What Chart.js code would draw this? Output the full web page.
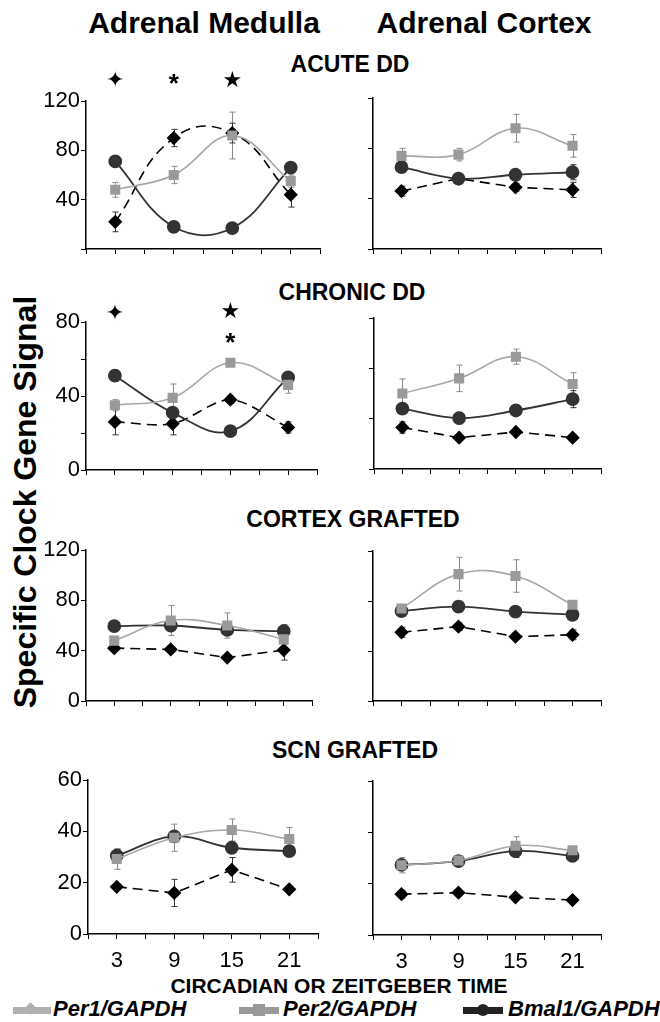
<!DOCTYPE html>
<html>
<head>
<meta charset="utf-8">
<script src="https://cdn.jsdelivr.net/npm/chart.js@4.4.1/dist/chart.umd.min.js"></script>
<style>
    body { margin: 0; background: #fff; }
    #page { position: relative; width: 660px; height: 1022px; overflow: hidden;
            font-family: "Liberation Sans", Arial, sans-serif; color: #000; }
    .txt { position: absolute; white-space: nowrap; font-weight: bold; transform: translate(-50%, -50%); }
    canvas { position: absolute; }
    .sw { position: absolute; height: 7px; }
    .mk { position: absolute; }
    .leg { position: absolute; font-weight: bold; font-style: italic; font-size: 22px; white-space: nowrap; }
</style>
</head>
<body>
<div id="page">
    <div class="txt" style="left:204px; top:23px; font-size:30px;">Adrenal Medulla</div>
    <div class="txt" style="left:484px; top:23px; font-size:30px;">Adrenal Cortex</div>

    <div class="txt" style="left:350px; top:64px; font-size:23px;">ACUTE DD</div>
    <div class="txt" style="left:352px; top:292px; font-size:23px;">CHRONIC DD</div>
    <div class="txt" style="left:353px; top:519px; font-size:23px;">CORTEX GRAFTED</div>
    <div class="txt" style="left:355px; top:750px; font-size:23px;">SCN GRAFTED</div>

    <div class="txt" style="left:25px; top:502px; font-size:32px; transform: translate(-50%, -50%) rotate(-90deg);">Specific Clock Gene Signal</div>
    <div class="txt" style="left:339px; top:986px; font-size:21px;">CIRCADIAN OR ZEITGEBER TIME</div>

    <!-- legend -->
    <div class="sw" style="left:13px; top:1007px; width:38px; background:#b0b0b0;"></div>
    <div class="mk" style="left:26px; top:1004px; width:9px; height:9px; background:#b0b0b0; transform:rotate(45deg);"></div>
    <div class="leg" style="left:53px; top:996px;">Per1/GAPDH</div>

    <div class="sw" style="left:239px; top:1007px; width:40px; background:#999;"></div>
    <div class="mk" style="left:253px; top:1004px; width:12px; height:12px; background:#999;"></div>
    <div class="leg" style="left:283px; top:996px;">Per2/GAPDH</div>

    <div class="sw" style="left:463px; top:1007px; width:40px; background:#222;"></div>
    <div class="mk" style="left:477px; top:1004px; width:12px; height:12px; border-radius:50%; background:#222;"></div>
    <div class="leg" style="left:508px; top:996px;">Bmal1/GAPDH</div>
</div>

<script>
// -----------------------------
// DATA
// -----------------------------
const hours = [3, 9, 15, 21];
const xTickLabels = [3, 9, 15, 21];

// ACUTE DD - medulla
const acuteMedPer1 = [22, 90, 94, 44];
const acuteMedPer1Err = [8, 7, 8, 10];
const acuteMedPer2 = [48, 60, 92, 55];
const acuteMedPer2Err = [6, 7, 19, 5];
const acuteMedBmal1 = [71, 18, 17, 66];
const acuteMedBmal1Err = [0, 0, 0, 0];
// ACUTE DD - cortex
const acuteCtxPer1 = [46, 56, 49, 47];
const acuteCtxPer1Err = [4, 2, 3, 6];
const acuteCtxPer2 = [74, 75, 96, 82];
const acuteCtxPer2Err = [6, 5, 11, 9];
const acuteCtxBmal1 = [65, 56, 59, 61];
const acuteCtxBmal1Err = [4, 3, 3, 6];

// CHRONIC DD - medulla
const chronMedPer1 = [26, 25, 38, 23];
const chronMedPer1Err = [7, 6, 2, 3];
const chronMedPer2 = [35, 39, 58, 46];
const chronMedPer2Err = [3, 7.5, 1.5, 4.5];
const chronMedBmal1 = [51, 31, 21, 50];
const chronMedBmal1Err = [3, 0, 0, 2];
// CHRONIC DD - cortex
const chronCtxPer1 = [22, 16.6, 19.6, 16.6];
const chronCtxPer1Err = [3, 0, 0, 0];
const chronCtxPer2 = [40, 48, 59.5, 45];
const chronCtxPer2Err = [7.7, 7, 4, 6];
const chronCtxBmal1 = [32, 27, 31, 37];
const chronCtxBmal1Err = [0, 3, 0, 4.5];

// CORTEX GRAFTED - medulla
const ctxgMedPer1 = [42, 41, 34.5, 40.5];
const ctxgMedPer1Err = [2, 0, 0, 8];
const ctxgMedPer2 = [48, 64, 60, 49];
const ctxgMedPer2Err = [0, 12, 10, 4];
const ctxgMedBmal1 = [59.5, 60, 56.5, 55.5];
const ctxgMedBmal1Err = [0, 0, 4, 5];
// CORTEX GRAFTED - cortex
const ctxgCtxPer1 = [55, 59.5, 51.5, 53];
const ctxgCtxPer1Err = [4, 3, 0, 4];
const ctxgCtxPer2 = [74, 101.5, 100, 77];
const ctxgCtxPer2Err = [0, 13.5, 13, 0];
const ctxgCtxBmal1 = [72, 75.5, 71.5, 69];
const ctxgCtxBmal1Err = [4, 0, 0, 3];

// SCN GRAFTED - medulla
const scnMedPer1 = [18.4, 16, 25, 17.4];
const scnMedPer1Err = [1, 5.3, 4.8, 0];
const scnMedPer2 = [29.2, 37.5, 40.5, 37];
const scnMedPer2Err = [4, 5.3, 4.3, 4.5];
const scnMedBmal1 = [30.5, 38, 33.6, 32.3];
const scnMedBmal1Err = [2.5, 0, 0, 0];
// SCN GRAFTED - cortex
const scnCtxPer1 = [15.9, 16.5, 14.7, 13.6];
const scnCtxPer1Err = [1.5, 0, 0, 0];
const scnCtxPer2 = [27.2, 29, 34.8, 33];
const scnCtxPer2Err = [3, 2, 3.5, 0];
const scnCtxBmal1 = [27.3, 28.8, 32.7, 30.8];
const scnCtxBmal1Err = [0, 0, 2.5, 0];

// significance symbols (x in hours, y in axis units)
const acuteMedSig = [
    { x: 3, y: 136, s: "\u2726" },
    { x: 9, y: 133, s: "*" },
    { x: 15, y: 136, s: "\u2605" }
];
const chronMedSig = [
    { x: 3, y: 84, s: "\u2726" },
    { x: 15, y: 85, s: "\u2605" },
    { x: 15, y: 68, s: "*" }
];

// -----------------------------
// PANELS (plot rectangle in page pixels)
// -----------------------------
const panels = [
    { box: [86, 101, 320, 249], max: 120, step: 40, labels: [40, 80, 120], per1: acuteMedPer1, per1Err: acuteMedPer1Err, per2: acuteMedPer2, per2Err: acuteMedPer2Err, bmal: acuteMedBmal1, bmalErr: acuteMedBmal1Err, sig: acuteMedSig, dashTension: 0.45 },
    { box: [373, 98, 601, 249], max: 120, step: 40, labels: null, per1: acuteCtxPer1, per1Err: acuteCtxPer1Err, per2: acuteCtxPer2, per2Err: acuteCtxPer2Err, bmal: acuteCtxBmal1, bmalErr: acuteCtxBmal1Err, dashTension: 0 },
    { box: [86, 322, 317, 470], max: 80, step: 20, labels: [0, 40, 80], per1: chronMedPer1, per1Err: chronMedPer1Err, per2: chronMedPer2, per2Err: chronMedPer2Err, bmal: chronMedBmal1, bmalErr: chronMedBmal1Err, sig: chronMedSig, dashTension: 0.3 },
    { box: [374, 318, 601, 469], max: 80, step: 80 / 3, labels: null, per1: chronCtxPer1, per1Err: chronCtxPer1Err, per2: chronCtxPer2, per2Err: chronCtxPer2Err, bmal: chronCtxBmal1, bmalErr: chronCtxBmal1Err, dashTension: 0 },
    { box: [86, 550, 312, 701], max: 120, step: 40, labels: [0, 40, 80, 120], per1: ctxgMedPer1, per1Err: ctxgMedPer1Err, per2: ctxgMedPer2, per2Err: ctxgMedPer2Err, bmal: ctxgMedBmal1, bmalErr: ctxgMedBmal1Err, dashTension: 0 },
    { box: [373, 551, 601, 701], max: 120, step: 40, labels: null, per1: ctxgCtxPer1, per1Err: ctxgCtxPer1Err, per2: ctxgCtxPer2, per2Err: ctxgCtxPer2Err, bmal: ctxgCtxBmal1, bmalErr: ctxgCtxBmal1Err, dashTension: 0 },
    { box: [88, 780, 318, 934], max: 60, step: 20, labels: [0, 20, 40, 60], per1: scnMedPer1, per1Err: scnMedPer1Err, per2: scnMedPer2, per2Err: scnMedPer2Err, bmal: scnMedBmal1, bmalErr: scnMedBmal1Err, dashTension: 0, xLabels: true },
    { box: [373, 781, 601, 935], max: 60, step: 20, labels: null, per1: scnCtxPer1, per1Err: scnCtxPer1Err, per2: scnCtxPer2, per2Err: scnCtxPer2Err, bmal: scnCtxBmal1, bmalErr: scnCtxBmal1Err, dashTension: 0, xLabels: true }
];

const PAD_L = 62, PAD_T = 42, PAD_R = 10, PAD_B = 44;

// -----------------------------
// PLUGINS
// -----------------------------
const errorBars = {
    id: "errorBars",
    beforeDatasetsDraw(chart) {
        const { ctx, scales: { x, y } } = chart;
        chart.data.datasets.forEach((ds) => {
            if (!ds.err) return;
            ctx.save();
            ctx.strokeStyle = ds.errColor;
            ctx.lineWidth = 1;
            ds.data.forEach((p, i) => {
                const e = ds.err[i];
                if (!e) return;
                const px = Math.round(x.getPixelForValue(p.x)) + 0.5;
                const top = y.getPixelForValue(p.y + e);
                const bot = y.getPixelForValue(p.y - e);
                ctx.beginPath();
                ctx.moveTo(px, top); ctx.lineTo(px, bot);
                ctx.moveTo(px - 3, top); ctx.lineTo(px + 3, top);
                ctx.moveTo(px - 3, bot); ctx.lineTo(px + 3, bot);
                ctx.stroke();
            });
            ctx.restore();
        });
    }
};

function sigPlugin(marks) {
    return {
        id: "sigMarks",
        afterDraw(chart) {
            if (!marks) return;
            const { ctx, scales: { x, y } } = chart;
            ctx.save();
            ctx.fillStyle = "#000";
            ctx.textAlign = "center";
            ctx.textBaseline = "middle";
            marks.forEach((m) => {
                ctx.font = m.s === "*" ? "bold 26px 'Liberation Sans'" : "22px 'DejaVu Sans'";
                ctx.fillText(m.s, x.getPixelForValue(m.x), y.getPixelForValue(m.y));
            });
            ctx.restore();
        }
    };
}

// -----------------------------
// BUILD CHARTS
// -----------------------------
const page = document.getElementById("page");

function pts(vals) {
    return hours.map((h, i) => ({ x: h, y: vals[i] }));
}

panels.forEach((p) => {
    const [l, t, r, b] = p.box;
    const canvas = document.createElement("canvas");
    const w = r - l + PAD_L + PAD_R;
    const h = b - t + PAD_T + PAD_B;
    canvas.width = w;
    canvas.height = h;
    canvas.style.left = (l - PAD_L) + "px";
    canvas.style.top = (t - PAD_T) + "px";
    canvas.style.width = w + "px";
    canvas.style.height = h + "px";
    page.appendChild(canvas);

    const axisGrid = {
        drawOnChartArea: false,
        drawTicks: true,
        tickLength: 5,
        color: "#000",
        lineWidth: 1
    };

    new Chart(canvas.getContext("2d"), {
        type: "line",
        data: {
            datasets: [
                {
                    label: "Per2/GAPDH",
                    data: pts(p.per2),
                    err: p.per2Err,
                    errColor: "#8a8a8a",
                    borderColor: "#a8a8a8",
                    borderWidth: 1.6,
                    tension: 0.4,
                    pointStyle: "rect",
                    pointRadius: 6,
                    pointBackgroundColor: "#9a9a9a",
                    pointBorderColor: "#9a9a9a"
                },
                {
                    label: "Bmal1/GAPDH",
                    data: pts(p.bmal),
                    err: p.bmalErr,
                    errColor: "#333",
                    borderColor: "#333",
                    borderWidth: 1.8,
                    tension: 0.4,
                    pointStyle: "circle",
                    pointRadius: 6,
                    pointBackgroundColor: "#333",
                    pointBorderColor: "#333"
                },
                {
                    label: "Per1/GAPDH",
                    data: pts(p.per1),
                    err: p.per1Err,
                    errColor: "#333",
                    borderColor: "#000",
                    borderWidth: 1.6,
                    borderDash: [10, 6],
                    tension: p.dashTension,
                    pointStyle: "rectRot",
                    pointRadius: 6,
                    pointBackgroundColor: "#000",
                    pointBorderColor: "#000"
                }
            ]
        },
        options: {
            responsive: false,
            animation: false,
            layout: { padding: { top: PAD_T, right: PAD_R, left: 0, bottom: 0 } },
            plugins: { legend: { display: false }, tooltip: { enabled: false } },
            scales: {
                x: {
                    type: "linear",
                    min: 0,
                    max: 24,
                    afterFit: (s) => { s.height = PAD_B; },
                    ticks: {
                        stepSize: 3,
                        autoSkip: false,
                        maxRotation: 0,
                        padding: 9,
                        color: "#000",
                        font: { family: "Liberation Sans", size: 22 },
                        callback: (v) => (p.xLabels && xTickLabels.includes(v) ? String(v) : "")
                    },
                    grid: axisGrid,
                    border: { color: "#000", width: 1.5 }
                },
                y: {
                    min: 0,
                    max: p.max,
                    afterFit: (s) => { s.width = PAD_L; },
                    ticks: {
                        stepSize: p.step,
                        autoSkip: false,
                        padding: 1,
                        color: "#000",
                        font: { family: "Liberation Sans", size: 22 },
                        callback: (v) => (p.labels && p.labels.includes(Math.round(v)) ? String(Math.round(v)) : "")
                    },
                    grid: axisGrid,
                    border: { color: "#000", width: 1.5 }
                }
            }
        },
        plugins: [errorBars, sigPlugin(p.sig)]
    });
});
</script>
</body>
</html>
